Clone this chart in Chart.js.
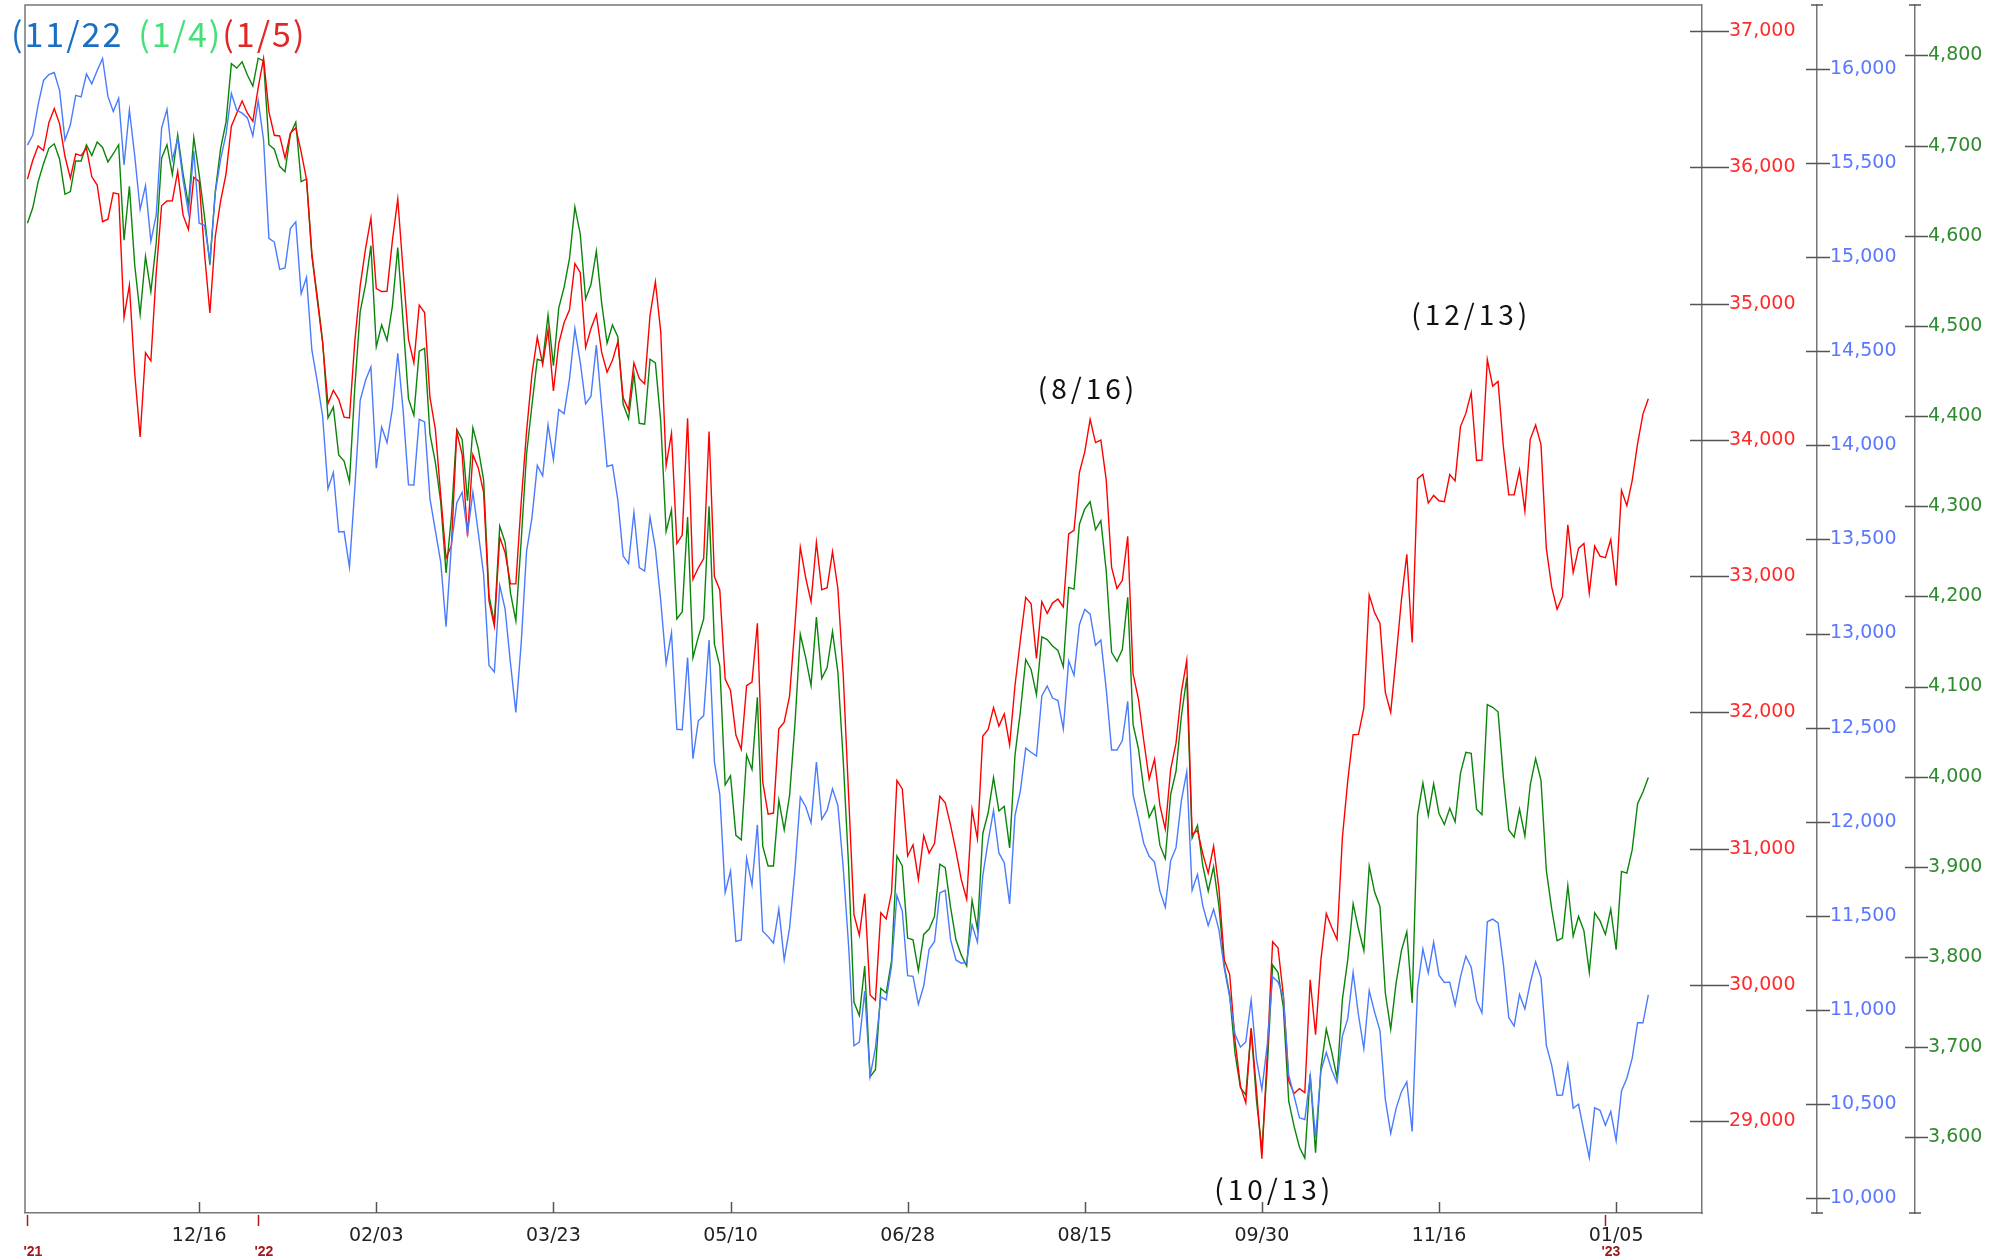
<!DOCTYPE html>
<html>
<head>
<meta charset="utf-8">
<script src="https://cdn.jsdelivr.net/npm/chart.js@4.4.1/dist/chart.umd.min.js"></script>
<style>
  html, body { margin: 0; padding: 0; background: #fff; }
  canvas { display: block; }
</style>
</head>
<body>
<canvas id="chart" width="2003" height="1256"></canvas>
<script>
// daily closes, trading days from 2021-11-01 to 2023-01-13 (one row per month)
const dowClose = [
  35914, 36053, 36158, 36124, 36328, 36432, 36320, 36080, 35921, 36100, 36087, 36142, 35931, 35871, 35602, 35620, 35814, 35804, 34899, 35136, 34484,
  34022, 34640, 34580, 35227, 35719, 35754, 35755, 35971, 35650, 35544, 35927, 35898, 35365, 34932, 35493, 35754, 35951, 36302, 36398, 36488, 36398, 36338,
  36585, 36800, 36408, 36236, 36231, 36069, 36252, 36290, 36114, 35912, 35369, 35029, 34715, 34265, 34365, 34298, 34168, 34161, 34725, 35132,
  35405, 35629, 35111, 35089, 35091, 35463, 35768, 35242, 34738, 34566, 34989, 34935, 34312, 34079, 33597, 33132, 33224, 34059, 33893,
  33294, 33892, 33795, 33615, 32818, 32633, 33286, 33174, 32944, 32945, 33545, 34063, 34481, 34754, 34553, 34808, 34359, 34708, 34862, 34955, 35294, 35229, 34678,
  34818, 34922, 34641, 34497, 34584, 34721, 34309, 34221, 34565, 34452, 34412, 34912, 35161, 34793, 33811, 34049, 33240, 33302, 34160, 32977,
  33062, 33129, 34061, 32998, 32899, 32246, 32161, 31834, 31730, 32197, 32223, 32655, 31490, 31254, 31262, 31880, 31929, 32120, 32637, 33213, 32990,
  32813, 33248, 32900, 32916, 33180, 32910, 32273, 31393, 30517, 30365, 30669, 29927, 29889, 30530, 30484, 30677, 31501, 31439, 30947, 31029, 30775,
  31097, 30968, 31038, 31385, 31338, 31174, 30982, 30773, 30630, 31289, 31073, 31827, 31875, 32036, 31900, 31990, 31762, 32198, 32530, 32845,
  32798, 32397, 32813, 32727, 32803, 32833, 32775, 33310, 33337, 33761, 33913, 34152, 33981, 33999, 33707, 33064, 32910, 32970, 33292, 32283, 32099, 31791, 31510,
  31657, 31318, 31145, 31581, 31775, 32152, 32381, 31105, 31135, 30962, 30822, 31020, 30706, 30184, 30077, 29590, 29260, 29135, 29684, 29226, 28726,
  29490, 30317, 30274, 29927, 29297, 29203, 29240, 29211, 30039, 29635, 30186, 30524, 30424, 30334, 31083, 31500, 31837, 31839, 32034, 32862, 32733,
  32653, 32148, 32001, 32403, 32827, 33161, 32514, 33716, 33748, 33537, 33593, 33554, 33547, 33746, 33700, 34098, 34195, 34347, 33850, 33853, 34590,
  34395, 34430, 33947, 33597, 33598, 33781, 33477, 34005, 34109, 33966, 33203, 32920, 32758, 32850, 33377, 33027, 33204, 33241, 32876, 33221, 33147,
  33136, 33270, 32930, 33631, 33518, 33704, 33974, 34190, 34303
];

const nasdaqClose = [
  15596, 15650, 15812, 15940, 15971, 15982, 15886, 15623, 15704, 15861, 15853, 15974, 15922, 15993, 16057, 15855, 15775, 15845, 15491, 15783, 15538,
  15254, 15381, 15085, 15225, 15687, 15786, 15518, 15630, 15413, 15238, 15566, 15181, 15170, 14981, 15341, 15522, 15653, 15871, 15782, 15766, 15741, 15645,
  15833, 15623, 15101, 15081, 14936, 14943, 15153, 15188, 14807, 14894, 14506, 14341, 14155, 13769, 13856, 13540, 13542, 13353, 13771, 14240,
  14346, 14417, 13879, 14098, 14015, 14195, 14490, 14186, 13791, 13790, 14139, 14125, 13717, 13548, 13381, 13037, 13474, 13695, 13751,
  13532, 13752, 13537, 13313, 12830, 12796, 13256, 13130, 12843, 12581, 12949, 13437, 13615, 13894, 13838, 14109, 13923, 14191, 14169, 14354, 14620, 14443, 14221,
  14262, 14533, 14204, 13888, 13897, 13711, 13412, 13372, 13644, 13351, 13332, 13619, 13453, 13174, 12839, 13004, 12491, 12489, 12872, 12335,
  12536, 12564, 12965, 12318, 12145, 11623, 11738, 11364, 11371, 11805, 11663, 11984, 11418, 11389, 11355, 11535, 11264, 11434, 11741, 12131, 12081,
  11994, 12317, 12013, 12061, 12175, 12087, 11755, 11341, 10809, 10828, 11099, 10646, 10798, 11069, 11053, 11232, 11608, 11525, 11182, 11178, 11029,
  11128, 11322, 11362, 11621, 11635, 11373, 11265, 11248, 11252, 11452, 11360, 11713, 11897, 12060, 11834, 11782, 11563, 12032, 12163, 12391,
  12369, 12349, 12668, 12721, 12657, 12644, 12493, 12855, 12779, 13047, 13128, 13103, 12938, 12966, 12705, 12381, 12381, 12431, 12640, 12142, 12018, 11884, 11816,
  11785, 11631, 11545, 11792, 11862, 12112, 12266, 11634, 11720, 11552, 11448, 11535, 11425, 11220, 11067, 10868, 10802, 10829, 11052, 10737, 10576,
  10815, 11176, 11148, 11074, 10652, 10542, 10426, 10417, 10649, 10321, 10676, 10773, 10681, 10614, 10860, 10953, 11199, 10971, 10793, 11102, 10988,
  10890, 10524, 10343, 10475, 10565, 10617, 10353, 11114, 11323, 11196, 11359, 11184, 11145, 11147, 11025, 11175, 11285, 11226, 11050, 10984, 11468,
  11482, 11462, 11240, 10959, 10914, 11082, 11005, 11144, 11256, 11171, 10811, 10705, 10546, 10547, 10709, 10477, 10498, 10354, 10214, 10479, 10466,
  10386, 10459, 10305, 10569, 10636, 10743, 10932, 10931, 11079
];

const spxClose = [
  4614, 4631, 4660, 4680, 4697, 4702, 4685, 4646, 4649, 4683, 4683, 4701, 4689, 4704, 4698, 4682, 4691, 4701, 4595, 4655, 4567,
  4513, 4577, 4538, 4592, 4686, 4701, 4668, 4712, 4669, 4634, 4709, 4668, 4621, 4568, 4649, 4697, 4726, 4791, 4786, 4793, 4778, 4766,
  4797, 4794, 4701, 4696, 4677, 4671, 4713, 4726, 4660, 4663, 4577, 4533, 4483, 4398, 4410, 4357, 4350, 4327, 4432, 4516,
  4546, 4589, 4477, 4501, 4484, 4522, 4587, 4504, 4419, 4401, 4472, 4475, 4380, 4349, 4305, 4226, 4289, 4385, 4374,
  4306, 4387, 4364, 4329, 4201, 4171, 4278, 4260, 4204, 4173, 4262, 4358, 4412, 4463, 4461, 4512, 4456, 4520, 4543, 4575, 4632, 4602, 4530,
  4546, 4583, 4525, 4481, 4501, 4488, 4413, 4397, 4447, 4392, 4391, 4463, 4459, 4394, 4272, 4296, 4175, 4183, 4288, 4132,
  4155, 4175, 4300, 4147, 4123, 3991, 4001, 3935, 3930, 4024, 4008, 4088, 3923, 3901, 3901, 3974, 3941, 3979, 4058, 4158, 4132,
  4101, 4177, 4109, 4121, 4161, 4116, 4018, 3901, 3750, 3735, 3790, 3667, 3675, 3765, 3760, 3796, 3912, 3901, 3821, 3819, 3785,
  3825, 3831, 3845, 3903, 3899, 3855, 3819, 3802, 3790, 3863, 3831, 3937, 3960, 3999, 3962, 3967, 3921, 4024, 4072, 4130,
  4119, 4091, 4155, 4152, 4145, 4140, 4122, 4210, 4208, 4280, 4297, 4305, 4274, 4284, 4228, 4138, 4128, 4141, 4199, 4058, 4031, 3986, 3955,
  3967, 3924, 3909, 3980, 4006, 4067, 4110, 3932, 3946, 3901, 3873, 3900, 3856, 3790, 3758, 3693, 3655, 3647, 3720, 3640, 3586,
  3678, 3791, 3783, 3744, 3640, 3612, 3589, 3577, 3670, 3583, 3677, 3720, 3695, 3666, 3753, 3797, 3859, 3831, 3807, 3901, 3872,
  3856, 3760, 3720, 3771, 3807, 3828, 3749, 3957, 3993, 3957, 3992, 3959, 3947, 3965, 3950, 4004, 4027, 4026, 3964, 3958, 4080,
  4077, 4072, 3999, 3941, 3933, 3964, 3934, 3991, 4020, 3996, 3896, 3853, 3818, 3821, 3879, 3823, 3845, 3829, 3783, 3849, 3840,
  3825, 3853, 3808, 3895, 3893, 3919, 3970, 3983, 3999
];

// x axis: trading-day index, labelled every 33 sessions
const tickIdx = [32, 65, 98, 131, 164, 197, 230, 263, 296];
const tickLabels = ['12/16', '02/03', '03/23', '05/10', '06/28', '08/15', '09/30', '11/16', '01/05'];
const yearIdx = [0, 43, 294];
const yearLabels = ["'21", "'22", "'23"];

const dowTicks = [29000, 30000, 31000, 32000, 33000, 34000, 35000, 36000, 37000];
const nasdaqTicks = [10000, 10500, 11000, 11500, 12000, 12500, 13000, 13500, 14000, 14500, 15000, 15500, 16000];
const spxTicks = [3600, 3700, 3800, 3900, 4000, 4100, 4200, 4300, 4400, 4500, 4600, 4700, 4800];

// headline: dates of the highs, coloured per index
const peakTexts = ['(11/22', '(1/4)', '(1/5)'];
const peakColors = ['#1a6fc4', '#44e07a', '#e02828'];

// date notes placed on the Dow scale
const noteTexts = ['(8/16)', '(12/13)', '(10/13)'];
const noteIdx = [197.6, 269, 232.3];
const noteDow = [34380, 34920, 28500];

const RED = '#ff0000', BLUE = '#4a7bff', GREEN = '#0a850a';
const AXIS = '#777';
const TICK_FONT = { family: '"DejaVu Sans", sans-serif', size: 19 };

const toPoints = arr => arr.map((v, i) => ({ x: i, y: v }));
const fmt = v => Number(v).toLocaleString('en-US');

// fixed axis sizes, and no extra room for labels sticking past the ends
function fitY(w) {
  return s => { s.width = w; s.paddingTop = 0; s.paddingBottom = 0; };
}

const decor = {
  id: 'decor',
  afterDraw(chart) {
    const { ctx, chartArea: a, scales } = chart;
    ctx.save();
    ctx.strokeStyle = AXIS;
    ctx.lineWidth = 1.5;

    // left and top edges of the plot box
    ctx.beginPath();
    ctx.moveTo(a.left, a.bottom);
    ctx.lineTo(a.left, a.top);
    ctx.lineTo(a.right, a.top);
    ctx.stroke();

    // y tick marks cross the axis line
    const marks = [
      ['yDow', dowTicks, 12, 27],
      ['yNas', nasdaqTicks, 11, 13],
      ['ySpx', spxTicks, 10, 13]
    ];
    ctx.strokeStyle = '#555';
    marks.forEach(([id, ticks, inner, outer]) => {
      const s = scales[id];
      ctx.beginPath();
      ticks.forEach(v => {
        const y = Math.round(s.getPixelForValue(v)) + 0.5;
        ctx.moveTo(s.left - inner, y);
        ctx.lineTo(s.left + outer, y);
      });
      ctx.stroke();
    });

    // end caps on the two free-standing axes
    ['yNas', 'ySpx'].forEach(id => {
      const s = scales[id];
      ctx.beginPath();
      [a.top, a.bottom].forEach(y => {
        ctx.moveTo(s.left - 6, y);
        ctx.lineTo(s.left + 6, y);
      });
      ctx.stroke();
    });

    // x tick marks point up into the plot
    const x = scales.x;
    ctx.beginPath();
    tickIdx.forEach(v => {
      const px = Math.round(x.getPixelForValue(v)) + 0.5;
      ctx.moveTo(px, a.bottom - 11);
      ctx.lineTo(px, a.bottom);
    });
    ctx.stroke();

    // year markers under the axis
    ctx.strokeStyle = '#b01818';
    ctx.fillStyle = '#a01818';
    ctx.font = 'bold 14px "Liberation Sans", sans-serif';
    ctx.textBaseline = 'alphabetic';
    ctx.textAlign = 'left';
    yearIdx.forEach((v, i) => {
      const px = Math.round(x.getPixelForValue(v)) + 0.5;
      ctx.beginPath();
      ctx.moveTo(px, a.bottom + 2);
      ctx.lineTo(px, a.bottom + 13);
      ctx.stroke();
      ctx.fillText(yearLabels[i], px - 4, 1256);
    });

    // headline of peak dates
    ctx.font = '34px "Noto Sans CJK JP", sans-serif';
    ctx.letterSpacing = '2px';
    ctx.textBaseline = 'middle';
    let tx = 11;
    peakTexts.forEach((t, i) => {
      ctx.fillStyle = peakColors[i];
      ctx.fillText(t, tx, 34);
      tx += ctx.measureText(t).width + (i === 0 ? 15 : 0);
    });

    // date notes
    ctx.fillStyle = '#111';
    ctx.font = '28px "Noto Sans CJK JP", sans-serif';
    ctx.letterSpacing = '4px';
    ctx.textAlign = 'center';
    const yd = scales.yDow;
    noteTexts.forEach((t, i) => {
      ctx.fillText(t, x.getPixelForValue(noteIdx[i]), yd.getPixelForValue(noteDow[i]));
    });
    ctx.restore();
  }
};

new Chart(document.getElementById('chart'), {
  type: 'line',
  data: {
    datasets: [
      { label: 'NASDAQ', data: toPoints(nasdaqClose), yAxisID: 'yNas', borderColor: BLUE },
      { label: 'Dow', data: toPoints(dowClose), yAxisID: 'yDow', borderColor: RED },
      { label: 'S&P 500', data: toPoints(spxClose), yAxisID: 'ySpx', borderColor: GREEN }
    ]
  },
  options: {
    responsive: false,
    animation: false,
    devicePixelRatio: 1,
    layout: { padding: { left: 25, top: 5, right: 0, bottom: 0 } },
    elements: {
      line: { borderWidth: 1.4, tension: 0, fill: false },
      point: { radius: 0 }
    },
    plugins: {
      legend: { display: false },
      tooltip: { enabled: false }
    },
    scales: {
      x: {
        type: 'linear',
        min: -0.45,
        max: 312,
        grid: { display: false, drawTicks: false },
        border: { color: AXIS, width: 1.5 },
        afterBuildTicks: s => { s.ticks = tickIdx.map(v => ({ value: v })); },
        afterFit: s => { s.height = 43; s.paddingLeft = 0; s.paddingRight = 0; },
        ticks: {
          autoSkip: false,
          maxRotation: 0,
          padding: 12,
          color: '#222',
          font: TICK_FONT,
          callback: (v, i) => tickLabels[i]
        }
      },
      yDow: {
        position: 'right',
        min: 28327,
        max: 37192,
        grid: { display: false, drawTicks: false },
        border: { color: AXIS, width: 1.5 },
        afterBuildTicks: s => { s.ticks = dowTicks.map(v => ({ value: v })); },
        afterFit: fitY(115),
        ticks: { padding: 27, color: '#ff2a2a', font: TICK_FONT, callback: fmt }
      },
      yNas: {
        position: 'right',
        min: 9920,
        max: 16341,
        grid: { display: false, drawTicks: false },
        border: { color: AXIS, width: 1.5 },
        afterBuildTicks: s => { s.ticks = nasdaqTicks.map(v => ({ value: v })); },
        afterFit: fitY(98),
        ticks: { padding: 13, color: '#5a78ff', font: TICK_FONT, callback: fmt }
      },
      ySpx: {
        position: 'right',
        min: 3516,
        max: 4856,
        grid: { display: false, drawTicks: false },
        border: { color: AXIS, width: 1.5 },
        afterBuildTicks: s => { s.ticks = spxTicks.map(v => ({ value: v })); },
        afterFit: fitY(88),
        ticks: { padding: 13, color: '#2e8b2e', font: TICK_FONT, callback: fmt }
      }
    }
  },
  plugins: [decor]
});
</script>
</body>
</html>
